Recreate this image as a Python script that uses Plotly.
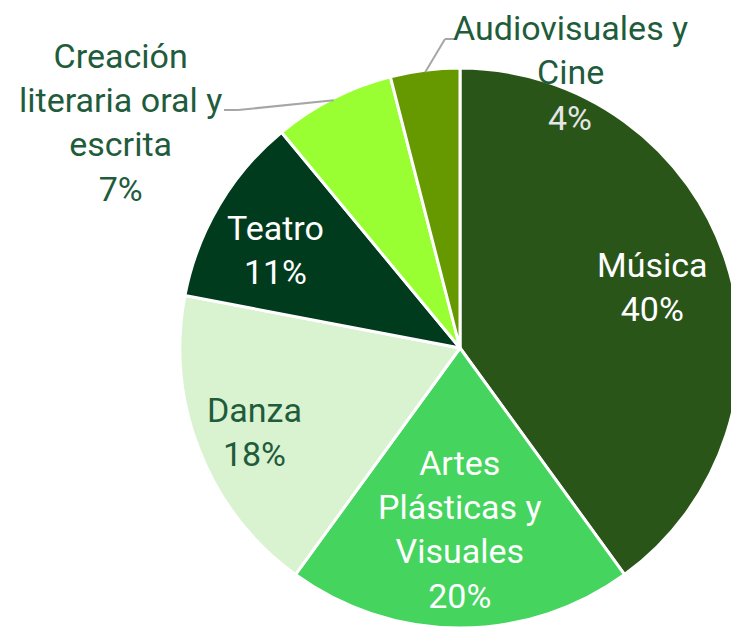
import math
import plotly.graph_objects as go

# ---- data ----
categories = ["Música", "Artes Plásticas y Visuales", "Danza", "Teatro",
              "Creación literaria oral y escrita", "Audiovisuales y Cine"]
values = [40, 20, 18, 11, 7, 4]
colors = ["#2A5519", "#45D45E", "#D9F2D0", "#013B1D", "#99FF33", "#669900"]
label_texts = ["Música", "Artes<br>Plásticas y<br>Visuales", "Danza", "Teatro",
               "Creación<br>literaria oral y<br>escrita", "Audiovisuales y<br>Cine"]

W, H = 739, 627
OFF = 8  # page body margin: window coords = figure coords + OFF
DARK = "#1F5C3B"
FONT = "Roboto"

# pie geometry in window px
cx, cy, R = 460, 348, 280
total = sum(values)


def px(x, y):
    return (x - OFF) / W, 1 - (y - OFF) / H


dx0, dy1 = px(cx - R, cy - R)
dx1, dy0 = px(cx + R, cy + R)

fig = go.Figure(go.Pie(
    labels=categories, values=values, sort=False, direction="clockwise",
    rotation=0, textinfo="none", hole=0,
    marker=dict(colors=colors, line=dict(color="white", width=3)),
    domain=dict(x=[max(dx0, 0), min(dx1, 1)], y=[max(dy0, 0), min(dy1, 1)]),
    showlegend=False,
))


def mid_angle(i):
    start = sum(values[:i]) / total * 360
    return math.radians(start + values[i] / total * 180)


def polar(ang, r):
    return cx + r * math.sin(ang), cy - r * math.cos(ang)


anns = []

def add(text, x, y, color, size=34):
    ax, ay = px(x, y)
    anns.append(dict(text=text, x=ax, y=ay, xref="paper", yref="paper",
                     xanchor="center", yanchor="middle", showarrow=False,
                     font=dict(family=FONT, size=size, color=color)))

pct = [f"{v}%" for v in values]
# inside labels
add(f"{label_texts[0]}<br>{pct[0]}", 652, 287, "white")
add(f"{label_texts[1]}<br>{pct[1]}", 460, 529, "white")
add(f"{label_texts[2]}<br>{pct[2]}", 254, 432, DARK)
add(f"{label_texts[3]}<br>{pct[3]}", 275, 250, "white")
# outside labels
add(f"{label_texts[4]}<br>{pct[4]}", 120, 122, DARK)
add(label_texts[5], 570, 50, DARK)
add(pct[5], 570, 118, "#E6E6E6")

fig.update_layout(annotations=anns)

# leader lines
shapes = []
def seg(p1, p2):
    x0, y0 = px(*p1)
    x1, y1 = px(*p2)
    shapes.append(dict(type="line", xref="paper", yref="paper", x0=x0, y0=y0,
                       x1=x1, y1=y1, line=dict(color="#A6A6A6", width=2)))

p = polar(mid_angle(4), R - 2)
seg(p, (238, 110))
seg((238, 110), (224, 110))
p = polar(mid_angle(5), R - 2)
seg(p, (445, 39))
seg((445, 39), (456, 39))
fig.update_layout(shapes=shapes)

fig.update_layout(width=W, height=H, margin=dict(l=0, r=0, t=0, b=0),
                  paper_bgcolor="white", plot_bgcolor="white")
fig.write_html("out.html")
